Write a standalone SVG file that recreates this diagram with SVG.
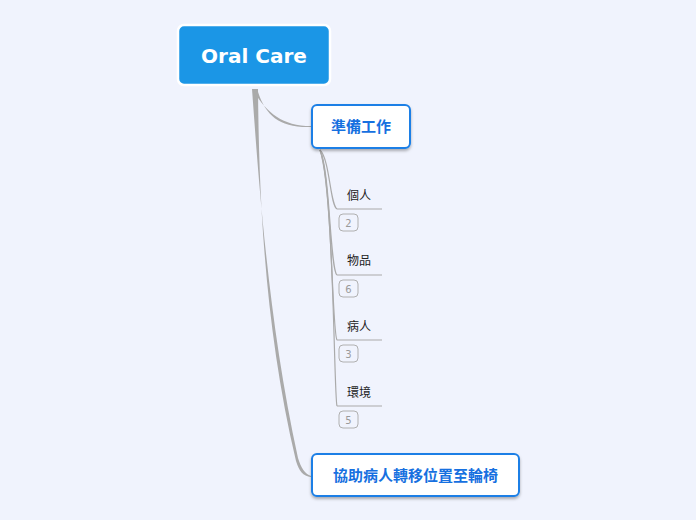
<svg xmlns="http://www.w3.org/2000/svg" width="696" height="520" viewBox="0 0 696 520">
<defs>
<filter id="sh" x="-10%" y="-10%" width="120%" height="130%"><feDropShadow dx="0" dy="2" stdDeviation="1.5" flood-color="#000" flood-opacity="0.3"/></filter>
<style>
.cn{fill:#aaaaaa;stroke:none}
.sl{fill:none;stroke:#aaaaaa;stroke-width:1.2}
.ul{stroke:#aaaaaa;stroke-width:1.2}
.sub{font-family:"Noto Sans CJK TC","Noto Sans CJK SC",sans-serif;font-size:12px;fill:#222}
.bd{fill:none;stroke:#b0b0b0;stroke-width:1}
.bt{font-family:"DejaVu Sans",sans-serif;font-size:10px;fill:#9a9a9a;text-anchor:middle}
.box{fill:#ffffff;stroke:#1a7fe6;stroke-width:2}
.bx{font-family:"Noto Sans CJK TC","Noto Sans CJK SC",sans-serif;font-size:15px;font-weight:bold;fill:#1670e0;text-anchor:middle}
</style>
</defs>
<rect width="696" height="520" fill="#f0f3fd"/>
<g id="connectors">
<path class="cn" d="M253,90 C266,112 282,126 311,126 L311,127 C280,128 266,116 258,92 Z"/>
<path class="cn" d="M252,89 C260,200 270,330 298,458 C301,468 305,474 311,476 L311,477 C303,476 299,471 296,461 C265,330 259,200 258,89 Z"/>
<path class="sl" d="M320,150 C330,160 330,205 337,209"/>
<path class="sl" d="M320,150 C330,170 330,270 337,275"/>
<path class="sl" d="M320,150 C332,180 332,335 337,340"/>
<path class="sl" d="M320,150 C334,190 334,400 337,406"/>
<line class="ul" x1="337" y1="209" x2="382" y2="209"/>
<line class="ul" x1="337" y1="275" x2="382" y2="275"/>
<line class="ul" x1="337" y1="340" x2="382" y2="340"/>
<line class="ul" x1="337" y1="406" x2="382" y2="406"/>
</g>
<g id="root">
<rect x="178" y="25" width="152" height="60" rx="6" fill="#1b96e6" stroke="#ffffff" stroke-width="2.5"/>
<text x="254" y="63" font-family="'DejaVu Sans',sans-serif" font-size="20" font-weight="bold" fill="#ffffff" text-anchor="middle">Oral Care</text>
</g>
<g id="n1">
<rect class="box" x="312" y="105" width="98" height="43" rx="5" filter="url(#sh)"/>
<text class="bx" x="361" y="132">準備工作</text>
</g>
<g id="s1">
<text class="sub" x="347" y="200">個人</text>
<rect class="bd" x="339" y="214" width="19" height="17" rx="4"/>
<text class="bt" x="348.5" y="226.5">2</text>
</g>
<g id="s2">
<text class="sub" x="347" y="265">物品</text>
<rect class="bd" x="339" y="280" width="19" height="17" rx="4"/>
<text class="bt" x="348.5" y="292.5">6</text>
</g>
<g id="s3">
<text class="sub" x="347" y="331">病人</text>
<rect class="bd" x="339" y="345" width="19" height="17" rx="4"/>
<text class="bt" x="348.5" y="357.5">3</text>
</g>
<g id="s4">
<text class="sub" x="347" y="397">環境</text>
<rect class="bd" x="339" y="411" width="19" height="17" rx="4"/>
<text class="bt" x="348.5" y="423.5">5</text>
</g>
<g id="n2">
<rect class="box" x="312" y="454" width="207" height="42" rx="5" filter="url(#sh)"/>
<text class="bx" x="415.5" y="481">協助病人轉移位置至輪椅</text>
</g>
</svg>
